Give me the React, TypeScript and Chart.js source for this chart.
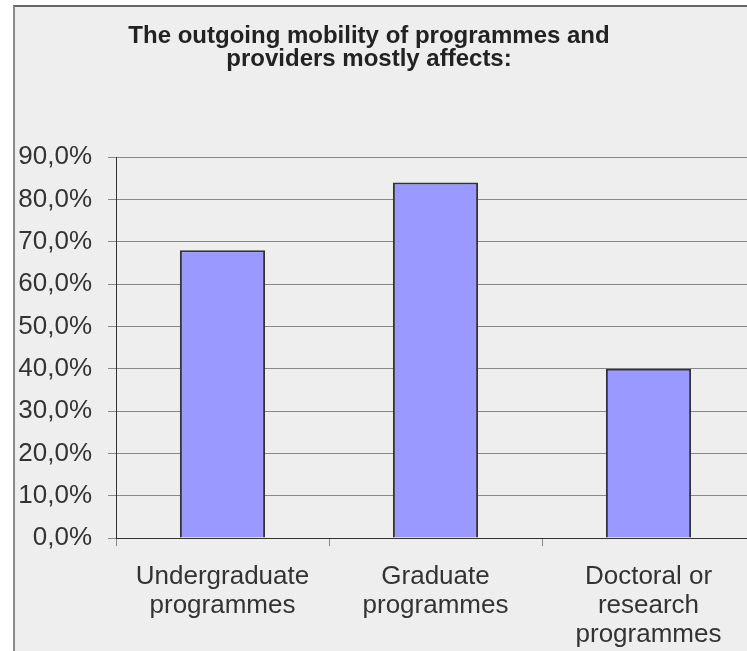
import React, { useEffect, useRef } from 'react';
import { Chart, registerables } from 'chart.js';

Chart.register(...registerables);

const categories: string[][] = [
  ['Undergraduate', 'programmes'],
  ['Graduate', 'programmes'],
  ['Doctoral or', 'research', 'programmes'],
];
const shares: number[] = [68, 84, 40];
const yMin = 0;
const yMax = 90;
const yStep = 10;
const titleLines: string[] = ['The outgoing mobility of programmes and', 'providers mostly affects:'];

const CW = 745;
const CH = 650;
const AREA_LEFT = 101;
const AREA_TOP = 150;
const AREA_BOTTOM = 531;
const TITLE_CENTER = 354;
const FONT = 'Liberation Sans, Arial, sans-serif';

export default function App() {
  const ref = useRef<HTMLCanvasElement>(null);

  useEffect(() => {
    if (!ref.current) return;
    const titleShift = {
      id: 'titleShift',
      afterLayout(chart: any) {
        const t = chart.titleBlock;
        if (t) {
          const half = 380;
          t.left = TITLE_CENTER - half;
          t.right = TITLE_CENTER + half;
          t.width = half * 2;
        }
      },
    };
    const titleSize = 24;
    const titleLH = 0.96;
    const titlePadTop = 17.5;
    const titleH = titleLines.length * titleSize * titleLH;
    const chart = new Chart(ref.current, {
      type: 'bar',
      data: {
        labels: categories,
        datasets: [
          {
            data: shares,
            backgroundColor: '#9999FF',
            borderColor: '#333333',
            borderWidth: 2,
            barPercentage: 0.4,
            categoryPercentage: 1,
          },
        ],
      },
      options: {
        responsive: false,
        animation: false,
        devicePixelRatio: 1,
        layout: { padding: { left: 0, right: 5, top: 0, bottom: 0 } },
        plugins: {
          legend: { display: false },
          tooltip: { enabled: false },
          title: {
            display: true,
            text: titleLines,
            color: '#222222',
            font: { family: FONT, size: titleSize, weight: 'bold', lineHeight: titleLH },
            padding: { top: titlePadTop, bottom: AREA_TOP - titlePadTop - titleH },
          },
        },
        scales: {
          x: {
            grid: {
              offset: true,
              drawOnChartArea: false,
              drawTicks: true,
              tickLength: 8,
              color: '#888888',
            },
            border: { color: '#333333', width: 1 },
            ticks: {
              color: '#333333',
              font: { family: FONT, size: 26, lineHeight: 1.12 },
              padding: 16,
              maxRotation: 0,
              autoSkip: false,
            },
            afterFit(s: any) {
              s.height = CH - AREA_BOTTOM;
            },
          },
          y: {
            min: yMin,
            max: yMax,
            ticks: {
              stepSize: yStep,
              color: '#333333',
              font: { family: FONT, size: 26 },
              padding: 16,
              callback: (v: any) => Number(v).toFixed(1).replace('.', ',') + '%',
            },
            grid: { color: '#888888', tickLength: 8 },
            border: { color: '#333333', width: 1 },
            afterFit(s: any) {
              s.width = AREA_LEFT;
            },
          },
        },
      },
      plugins: [titleShift],
    } as any);
    return () => chart.destroy();
  }, []);

  return (
    <div
      style={{
        position: 'fixed',
        left: 0,
        top: 0,
        width: 747,
        height: 651,
        overflow: 'hidden',
        background: '#ffffff',
      }}
    >
      <div
        style={{
          position: 'absolute',
          left: 13,
          top: 5,
          width: 780,
          height: 680,
          background: '#EEEEEE',
          borderLeft: '2px solid #8a8a8a',
          borderTop: '2px solid #666666',
        }}
      >
        <canvas ref={ref} width={CW} height={CH} style={{ display: 'block' }} />
      </div>
    </div>
  );
}
